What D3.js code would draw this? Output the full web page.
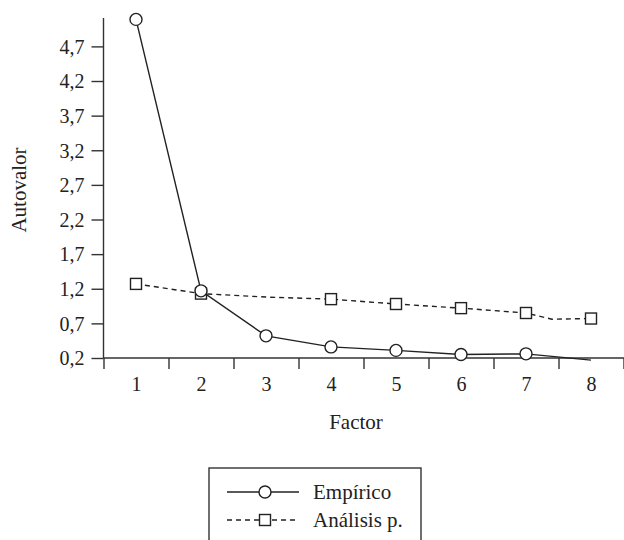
<!DOCTYPE html>
<html>
<head>
<meta charset="utf-8">
<script src="https://cdn.jsdelivr.net/npm/d3@7"></script>
<style>
  body { margin: 0; background: #fff; }
  svg text { font-family: "Liberation Serif", "DejaVu Serif", serif; fill: #222; }
  .axisG .domain { stroke: #333; stroke-width: 1.4px; }
  .axisG .tick line { stroke: #333; stroke-width: 1.4px; }
</style>
</head>
<body>
<div id="scree_chart"></div>
<script>
var factores = [1, 2, 3, 4, 5, 6, 7, 8];
var empiricoX = [1, 2, 3, 4, 5, 6, 7, 8];
var empiricoVal = [5.09, 1.17, 0.52, 0.36, 0.31, 0.25, 0.26, 0.17];
var empiricoMark = [1, 1, 1, 1, 1, 1, 1, 0];
var analisisX = [1, 2, 3, 4, 5, 6, 7, 7.4, 8];
var analisisVal = [1.27, 1.13, 1.08, 1.05, 0.98, 0.92, 0.85, 0.76, 0.77];
var analisisMark = [1, 1, 0, 1, 1, 1, 1, 0, 1];
var yTicks = [0.2, 0.7, 1.2, 1.7, 2.2, 2.7, 3.2, 3.7, 4.2, 4.7];
var xBounds = [0.5, 1.5, 2.5, 3.5, 4.5, 5.5, 6.5, 7.5, 8.5];
var legendLabels = ["Empírico", "Análisis p."];

(function () {
  'use strict'
  d3ScreeChart("scree_chart");
})()

function toRows(xs, vals, marks){
	var rows = [];
	for(var i = 0; i < xs.length; i++){
		rows.push({x: xs[i], val: vals[i], mark: marks[i]});
	}
	return rows;
}

function d3ScreeChart(divIdStr){
	var margin = {top: 18, right: 0, bottom: 182, left: 103.5};
	var width = 624 - margin.left - margin.right;
	var height = 540 - margin.top - margin.bottom;
	var tickFont = "20px";
	var titleFont = "21px";
	var ink = "#222";

	var x = d3.scaleLinear().domain([0.5, 8.5]).range([0, 520]);
	var y = d3.scaleLinear().domain([0.2, 5.11]).range([height, 0]);
	var fmt = function(d){ return d3.format(".1f")(d).replace(".", ","); };

	var svgRoot = d3.select("#"+divIdStr).append("svg")
		.attr("width", 624)
		.attr("height", 540);
	var svg = svgRoot.append("g")
		.attr("transform", "translate(" + margin.left + "," + margin.top + ")");

	// y axis
	var yAxisG = svg.append("g")
		.attr("class", "axisG")
		.call(d3.axisLeft(y).tickValues(yTicks).tickSize(12).tickPadding(7).tickFormat(fmt));
	yAxisG.selectAll(".domain").attr("d", "M0," + height + "V0");
	yAxisG.selectAll(".tick text").style("font-size", tickFont).attr("dy", "0.34em");

	// x axis: boundary ticks, then labels at category centers
	var xAxisG = svg.append("g")
		.attr("class", "axisG")
		.attr("transform", "translate(0," + height + ")")
		.call(d3.axisBottom(x).tickValues(xBounds).tickSize(11).tickFormat(""));
	xAxisG.selectAll(".domain").attr("d", "M0,0H" + (width + 2));
	svg.append("g")
		.attr("transform", "translate(0," + height + ")")
		.call(d3.axisBottom(x).tickValues(factores).tickSize(0).tickPadding(19).tickFormat(d3.format("d")))
		.call(function(g){ g.select(".domain").remove(); })
		.selectAll("text").style("font-size", tickFont);

	svg.append("text")
		.attr("x", 356 - margin.left)
		.attr("y", height + 71)
		.attr("text-anchor", "middle")
		.style("font-size", titleFont)
		.text("Factor");

	svg.append("text")
		.attr("transform", "translate(" + (-78) + "," + (190 - margin.top) + ") rotate(-90)")
		.attr("text-anchor", "middle")
		.style("font-size", titleFont)
		.text("Autovalor");

	var line = d3.line()
		.x(function(d){ return x(d.x); })
		.y(function(d){ return y(d.val); });

	var empRows = toRows(empiricoX, empiricoVal, empiricoMark);
	var anaRows = toRows(analisisX, analisisVal, analisisMark);

	svg.append("path")
		.datum(anaRows)
		.attr("fill", "none")
		.attr("stroke", ink)
		.attr("stroke-width", 1.4)
		.attr("stroke-dasharray", "5,4")
		.attr("d", line);

	svg.append("path")
		.datum(empRows)
		.attr("fill", "none")
		.attr("stroke", ink)
		.attr("stroke-width", 1.4)
		.attr("d", line);

	var sq = 11;
	svg.append("g").selectAll("rect")
		.data(anaRows.filter(function(d){ return d.mark; }))
		.enter().append("rect")
		.attr("x", function(d){ return x(d.x) - sq/2; })
		.attr("y", function(d){ return y(d.val) - sq/2; })
		.attr("width", sq)
		.attr("height", sq)
		.attr("fill", "#fff")
		.attr("stroke", ink)
		.attr("stroke-width", 1.4);

	svg.append("g").selectAll("circle")
		.data(empRows.filter(function(d){ return d.mark; }))
		.enter().append("circle")
		.attr("cx", function(d){ return x(d.x); })
		.attr("cy", function(d){ return y(d.val); })
		.attr("r", 6)
		.attr("fill", "#fff")
		.attr("stroke", ink)
		.attr("stroke-width", 1.4);

	// legend
	var lg = svgRoot.append("g").attr("transform", "translate(209,468)");
	lg.append("rect")
		.attr("width", 212)
		.attr("height", 100)
		.attr("fill", "#fff")
		.attr("stroke", "#333")
		.attr("stroke-width", 1.4);
	var rowY = [24, 52];
	legendLabels.forEach(function(lbl, i){
		lg.append("line")
			.attr("x1", 18).attr("x2", 90)
			.attr("y1", rowY[i]).attr("y2", rowY[i])
			.attr("stroke", ink)
			.attr("stroke-width", 1.4)
			.attr("stroke-dasharray", i == 1 ? "5,4" : null);
		if(i == 0){
			lg.append("circle")
				.attr("cx", 56).attr("cy", rowY[i]).attr("r", 6)
				.attr("fill", "#fff").attr("stroke", ink).attr("stroke-width", 1.4);
		}else{
			lg.append("rect")
				.attr("x", 56 - sq/2).attr("y", rowY[i] - sq/2)
				.attr("width", sq).attr("height", sq)
				.attr("fill", "#fff").attr("stroke", ink).attr("stroke-width", 1.4);
		}
		lg.append("text")
			.attr("x", 104)
			.attr("y", rowY[i] + 7)
			.style("font-size", titleFont)
			.text(lbl);
	});
}
</script>
</body>
</html>
